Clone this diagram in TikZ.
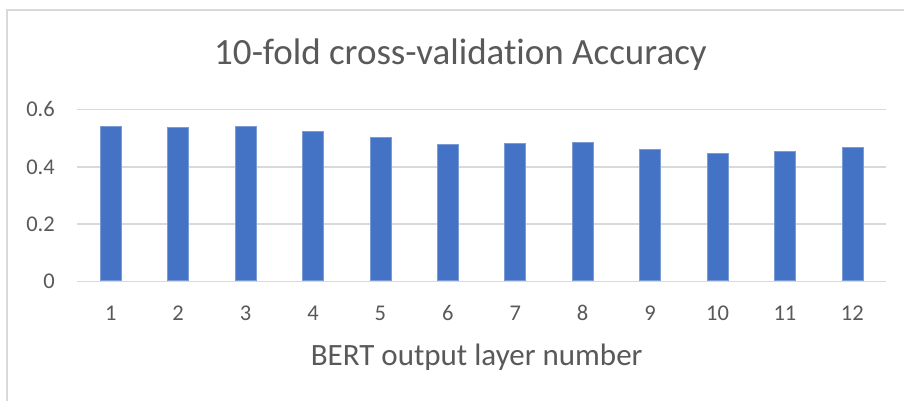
\documentclass[tikz,border=0pt]{standalone}
\usepackage{fontspec}
\setmainfont{Carlito}[Ligatures=NoCommon]
\definecolor{txtgray}{HTML}{595959}
\definecolor{gridgray}{HTML}{D9D9D9}
\definecolor{barblue}{HTML}{4472C4}
\tikzset{
  gridline/.style={draw=gridgray, line width=1.5pt},
  bar/.style={fill=barblue, draw=barblue!70!white, line width=0.5pt},
  ticklabel/.style={text=txtgray, font=\fontsize{22.5}{26}\selectfont, inner sep=0pt},
  catlabel/.style={text=txtgray, font=\fontsize{22.5}{26}\selectfont, anchor=base, inner sep=0pt},
  charttitle/.style={text=txtgray, font=\fontsize{37}{42}\selectfont, anchor=base, inner sep=0pt},
  axistitle/.style={text=txtgray, font=\fontsize{31}{36}\selectfont, anchor=base, inner sep=0pt},
}
\begin{document}
\begin{tikzpicture}[x=1pt, y=-1pt]
  \useasboundingbox (0,0) rectangle (904,401);
  \fill[white] (0,0) rectangle (904,401);
  % chart area frame (top and left edges)
  \draw[gridgray, line width=2pt] (7,401) -- (7,10) -- (904,10);
  % value axis: 0 at y=281.5, 0.6 at y=109.5
  \foreach \v/\lab in {0/0, 0.2/0.2, 0.4/0.4, 0.6/0.6} {
    \pgfmathsetmacro{\yy}{281.5 - \v*286.7}
    \draw[gridline] (77,\yy) -- (886,\yy);
    \node[ticklabel, anchor=east] (tick\lab) at (55,\yy) {\lab};
  }
  % bars and category labels
  \foreach \i/\val in {1/0.542, 2/0.539, 3/0.542, 4/0.524, 5/0.502, 6/0.477,
                       7/0.481, 8/0.484, 9/0.460, 10/0.446, 11/0.453, 12/0.470} {
    \pgfmathsetmacro{\cx}{77 + (\i-0.5)*67.42}
    \pgfmathsetmacro{\ytop}{281.5 - \val*286.7}
    \path[bar] (\cx-10.5,280.7) rectangle (\cx+10.5,\ytop);
    \node[catlabel] (cat\i) at (\cx,320.5) {\i};
  }
  \node[charttitle] (title) at (460.5,65) {10-fold cross-validation Accuracy};
  \node[axistitle] (xtitle) at (476.7,365) {BERT output layer number};
\end{tikzpicture}
\end{document}
